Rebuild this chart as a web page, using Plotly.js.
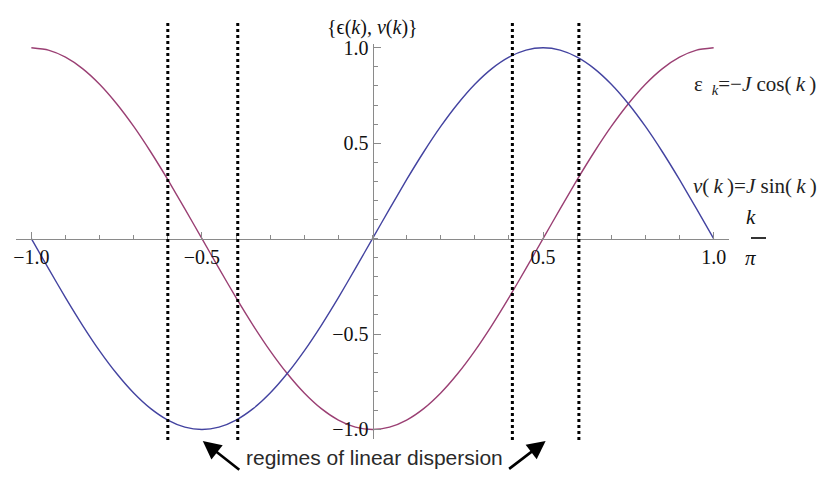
<!DOCTYPE html>
<html>
<head>
<meta charset="utf-8">
<script src="https://cdn.plot.ly/plotly-3.0.1.min.js"></script>
<style>
html, body {margin: 0; padding: 0; background: #fff;}
#plotArea {width: 824px; height: 488px;}
</style>
</head>
<body>
<div id="plotArea"></div>
<script>
// k / pi along the band
var kOverPi = [-1.0, -0.95, -0.9, -0.85, -0.8, -0.75, -0.7, -0.65, -0.6, -0.55, -0.5,
    -0.45, -0.4, -0.35, -0.3, -0.25, -0.2, -0.15, -0.1, -0.05, 0.0,
    0.05, 0.1, 0.15, 0.2, 0.25, 0.3, 0.35, 0.4, 0.45, 0.5,
    0.55, 0.6, 0.65, 0.7, 0.75, 0.8, 0.85, 0.9, 0.95, 1.0];
// eps_k = -J cos(k)
var energy = [1.0, 0.988, 0.951, 0.891, 0.809, 0.707, 0.588, 0.454, 0.309, 0.156, 0.0,
    -0.156, -0.309, -0.454, -0.588, -0.707, -0.809, -0.891, -0.951, -0.988, -1.0,
    -0.988, -0.951, -0.891, -0.809, -0.707, -0.588, -0.454, -0.309, -0.156, 0.0,
    0.156, 0.309, 0.454, 0.588, 0.707, 0.809, 0.891, 0.951, 0.988, 1.0];
// v(k) = J sin(k)
var velocity = [0.0, -0.156, -0.309, -0.454, -0.588, -0.707, -0.809, -0.891, -0.951, -0.988, -1.0,
    -0.988, -0.951, -0.891, -0.809, -0.707, -0.588, -0.454, -0.309, -0.156, 0.0,
    0.156, 0.309, 0.454, 0.588, 0.707, 0.809, 0.891, 0.951, 0.988, 1.0,
    0.988, 0.951, 0.891, 0.809, 0.707, 0.588, 0.454, 0.309, 0.156, 0.0];

// dotted bounds of the two linear regimes
var regimeLeft = [-0.6, -0.395];
var regimeRight = [0.41, 0.605];

var tickVals = [-1.0, -0.5, 0.5, 1.0];
var tickText = ["\u22121.0", "\u22120.5", "0.5", "1.0"];

var xRange = [-1.045, 1.045];
var yRange = [-1.05, 1.02];

// plot box in pixels, used to place the free text
var L = 16, T = 44, W = 713, H = 395;
function px(x) { return (x - L) / W; }
function py(y) { return (T + H - y) / H; }

var serif = "Liberation Serif, Times New Roman, serif";
var axisGray = "#8a8a8a";
var thin = "\u2009";

var traces = [
    {x: kOverPi, y: energy, mode: "lines", type: "scatter",
     line: {color: "#9a3f73", width: 1.4, shape: "spline", smoothing: 0.6}, hoverinfo: "none"},
    {x: kOverPi, y: velocity, mode: "lines", type: "scatter",
     line: {color: "#4343a0", width: 1.4, shape: "spline", smoothing: 0.6}, hoverinfo: "none"}
];

var shapes = regimeLeft.concat(regimeRight).map(function(x0) {
    return {type: "line", xref: "x", yref: "paper", x0: x0, x1: x0,
        y0: py(440), y1: py(22), line: {color: "#000", width: 3, dash: "dot"}};
});
// fraction bar of k / pi
shapes.push({type: "line", xref: "paper", yref: "paper",
    x0: px(751), x1: px(766), y0: py(238), y1: py(238), line: {color: "#000", width: 1.6}});

var axisCommon = {
    showgrid: false, zeroline: false, showline: true, linecolor: axisGray, linewidth: 1,
    ticks: "inside", ticklen: 7, tickcolor: axisGray, tickwidth: 1,
    tickmode: "array", tickvals: tickVals, ticktext: tickText,
    tickfont: {family: serif, size: 20, color: "#111"},
    minor: {tickmode: "linear", tick0: 0, dtick: 0.1, ticks: "inside", ticklen: 4,
        tickcolor: axisGray, tickwidth: 1},
    fixedrange: true
};

var layout = {
    width: 824, height: 488,
    margin: {l: L, r: 824 - L - W, t: T, b: 488 - T - H},
    paper_bgcolor: "#fff", plot_bgcolor: "#fff",
    showlegend: false,
    xaxis: Object.assign({}, axisCommon, {
        range: xRange, anchor: "free", side: "bottom",
        position: (0 - yRange[0]) / (yRange[1] - yRange[0])
    }),
    yaxis: Object.assign({}, axisCommon, {
        range: yRange, anchor: "free", side: "left",
        position: (0 - xRange[0]) / (xRange[1] - xRange[0])
    }),
    shapes: shapes,
    annotations: [
        {xref: "paper", yref: "paper", x: px(372), y: py(14), showarrow: false,
         text: "{\u03f5(<i>k</i>), <i>v</i>(<i>k</i>)}",
         font: {family: serif, size: 20, color: "#111"}},
        {xref: "paper", yref: "paper", x: px(818), y: py(70), xanchor: "right", showarrow: false,
         text: "\u03b5 <sub> <i>k</i></sub>=\u2212<i>J</i> cos(" + thin + "<i>k</i>" + thin + ")",
         font: {family: serif, size: 21, color: "#222"}},
        {xref: "paper", yref: "paper", x: px(819), y: py(172), xanchor: "right", showarrow: false,
         text: "<i>v</i>(" + thin + "<i>k</i>" + thin + ")=<i>J</i> sin(" + thin + "<i>k</i>" + thin + ")",
         font: {family: serif, size: 21, color: "#222"}},
        {xref: "paper", yref: "paper", x: px(758), y: py(217), showarrow: false,
         text: "<i>k</i>", font: {family: serif, size: 21, color: "#111"}},
        {xref: "paper", yref: "paper", x: px(758), y: py(258), showarrow: false,
         text: "<i>\u03c0</i>", font: {family: serif, size: 21, color: "#111"}},
        {xref: "paper", yref: "paper", x: px(374), y: py(471), showarrow: false,
         text: "regimes of linear dispersion",
         font: {family: "Liberation Sans, Arial, sans-serif", size: 21, color: "#2a2a2a"}},
        {xref: "x", yref: "paper", x: (regimeLeft[0] + regimeLeft[1]) / 2, y: py(441), text: "",
         showarrow: true, arrowhead: 2, arrowsize: 1.4, arrowwidth: 2.6, arrowcolor: "#000",
         ax: 38, ay: 30},
        {xref: "x", yref: "paper", x: (regimeRight[0] + regimeRight[1]) / 2, y: py(441), text: "",
         showarrow: true, arrowhead: 2, arrowsize: 1.4, arrowwidth: 2.6, arrowcolor: "#000",
         ax: -38, ay: 29}
    ]
};

Plotly.newPlot("plotArea", traces, layout, {displayModeBar: false, staticPlot: true});
</script>
</body>
</html>
